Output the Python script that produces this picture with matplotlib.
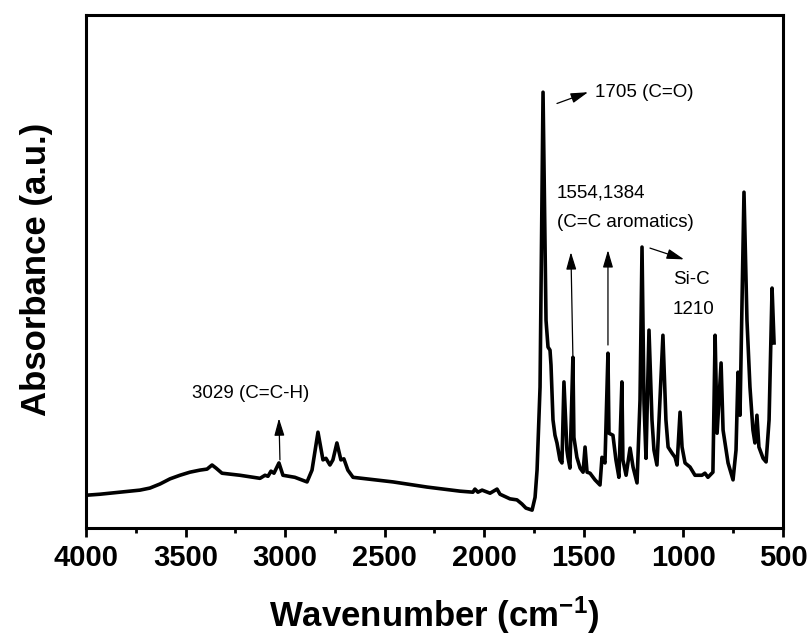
import matplotlib
matplotlib.use('Agg')
import matplotlib.pyplot as plt
from matplotlib import font_manager
import numpy as np

# FTIR spectrum (arbitrary absorbance units)
wavenumber = [4000, 3930, 3829, 3729, 3679, 3628, 3578, 3528, 3478, 3428,
              3392, 3367, 3347, 3317, 3227, 3126, 3101, 3086, 3071, 3056,
              3031, 3011, 2951, 2890, 2865, 2835, 2810, 2795, 2775, 2760,
              2740, 2720, 2705, 2685, 2659, 2614, 2458, 2288, 2122, 2057,
              2047, 2032, 2011, 1971, 1936, 1921, 1871, 1836, 1811, 1791,
              1760, 1745, 1735, 1720, 1705, 1690, 1680, 1670, 1665, 1660,
              1655, 1645, 1635, 1620, 1610, 1600, 1585, 1580, 1570, 1555,
              1550, 1535, 1519, 1504, 1494, 1484, 1469, 1444, 1419, 1409,
              1394, 1379, 1374, 1354, 1339, 1324, 1309, 1304, 1288, 1268,
              1253, 1233, 1218, 1208, 1198, 1188, 1173, 1158, 1148, 1133,
              1103, 1088, 1077, 1057, 1042, 1032, 1017, 1007, 992, 967,
              942, 907, 892, 877, 852, 841, 831, 811, 801, 776,
              751, 736, 726, 716, 696, 681, 666, 651, 641, 631,
              621, 600, 585, 570, 555, 545]
absorbance = [0.064, 0.066, 0.070, 0.074, 0.078, 0.086, 0.096, 0.103, 0.109, 0.113,
              0.115, 0.123, 0.117, 0.107, 0.103, 0.097, 0.103, 0.101, 0.111, 0.107,
              0.127, 0.103, 0.099, 0.090, 0.113, 0.187, 0.133, 0.136, 0.123, 0.133,
              0.166, 0.133, 0.135, 0.113, 0.099, 0.097, 0.090, 0.080, 0.072, 0.070,
              0.076, 0.070, 0.074, 0.068, 0.076, 0.066, 0.057, 0.055, 0.047, 0.039,
              0.035, 0.060, 0.113, 0.275, 0.850, 0.405, 0.353, 0.347, 0.318, 0.263,
              0.211, 0.181, 0.166, 0.133, 0.127, 0.285, 0.152, 0.138, 0.117, 0.333,
              0.177, 0.138, 0.117, 0.109, 0.158, 0.109, 0.107, 0.094, 0.084, 0.138,
              0.127, 0.341, 0.185, 0.181, 0.133, 0.099, 0.285, 0.133, 0.103, 0.156,
              0.119, 0.088, 0.250, 0.548, 0.244, 0.136, 0.386, 0.211, 0.152, 0.123,
              0.376, 0.211, 0.158, 0.146, 0.138, 0.123, 0.226, 0.158, 0.127, 0.119,
              0.103, 0.103, 0.107, 0.099, 0.109, 0.376, 0.185, 0.322, 0.191, 0.127,
              0.094, 0.152, 0.304, 0.220, 0.655, 0.405, 0.275, 0.191, 0.166, 0.220,
              0.158, 0.136, 0.129, 0.211, 0.468, 0.361]

xticks = [4000, 3500, 3000, 2500, 2000, 1500, 1000, 500]

names = {f.name for f in font_manager.fontManager.ttflist}
narrow = 'Liberation Sans Narrow' if 'Liberation Sans Narrow' in names else 'Liberation Sans'
ann_size = 15 if narrow == 'Liberation Sans Narrow' else 13.5

plt.rcParams['font.family'] = 'Liberation Sans'
plt.rcParams['mathtext.default'] = 'regular'

fig = plt.figure(figsize=(8.11, 6.37), dpi=100)
ax = fig.add_axes([0.106, 0.171, 0.8595, 0.805])

ax.plot(wavenumber, absorbance, color='k', lw=2.6, solid_joinstyle='round')

ax.set_xlim(4000, 500)
ax.set_ylim(0, 1)
ax.set_xticks(xticks)
ax.set_xticks(np.arange(3750, 500, -500), minor=True)
ax.set_yticks([])
ax.tick_params(axis='x', which='major', direction='out', length=6.5, width=2, pad=5,
               labelsize=21)
ax.tick_params(axis='x', which='minor', direction='out', length=3.5, width=2)
for lab in ax.get_xticklabels():
    lab.set_fontweight('bold')
for sp in ax.spines.values():
    sp.set_linewidth(2.2)

ax.set_xlabel(r'Wavenumber (cm$^{-1}$)', fontsize=25, fontweight='bold')
ax.set_ylabel('Absorbance (a.u.)', fontsize=25, fontweight='bold')
ax.xaxis.set_label_coords(0.5, -0.1287)
ax.yaxis.set_label_coords(-0.047, 0.505)

arrow = dict(arrowstyle='-|>,head_length=0.75,head_width=0.22', color='k', lw=0.9,
             mutation_scale=14, shrinkA=0, shrinkB=0)

# 1705 carbonyl
ax.annotate('', xy=(1479, 0.850), xytext=(1635, 0.828), arrowprops=arrow)
ax.text(1444, 0.850, '1705 (C=O)', fontsize=ann_size, family=narrow, va='center', ha='left')

# aromatic C=C
ax.text(1635, 0.653, '1554,1384', fontsize=ann_size, family=narrow, va='center', ha='left')
ax.text(1635, 0.595, '(C=C aromatics)', fontsize=ann_size, family=narrow, va='center', ha='left')
ax.annotate('', xy=(1565, 0.538), xytext=(1555, 0.333), arrowprops=arrow)
ax.annotate('', xy=(1379, 0.542), xytext=(1379, 0.357), arrowprops=arrow)

# Si-C
ax.annotate('', xy=(997, 0.524), xytext=(1168, 0.546), arrowprops=arrow)
ax.text(1052, 0.485, 'Si-C', fontsize=ann_size, family=narrow, va='center', ha='left')
ax.text(1052, 0.427, '1210', fontsize=ann_size, family=narrow, va='center', ha='left')

# 3029 C=C-H
ax.annotate('', xy=(3031, 0.214), xytext=(3026, 0.133), arrowprops=arrow)
ax.text(3468, 0.263, '3029 (C=C-H)', fontsize=ann_size, family=narrow, va='center', ha='left')

fig.savefig('out.png', dpi=100)
